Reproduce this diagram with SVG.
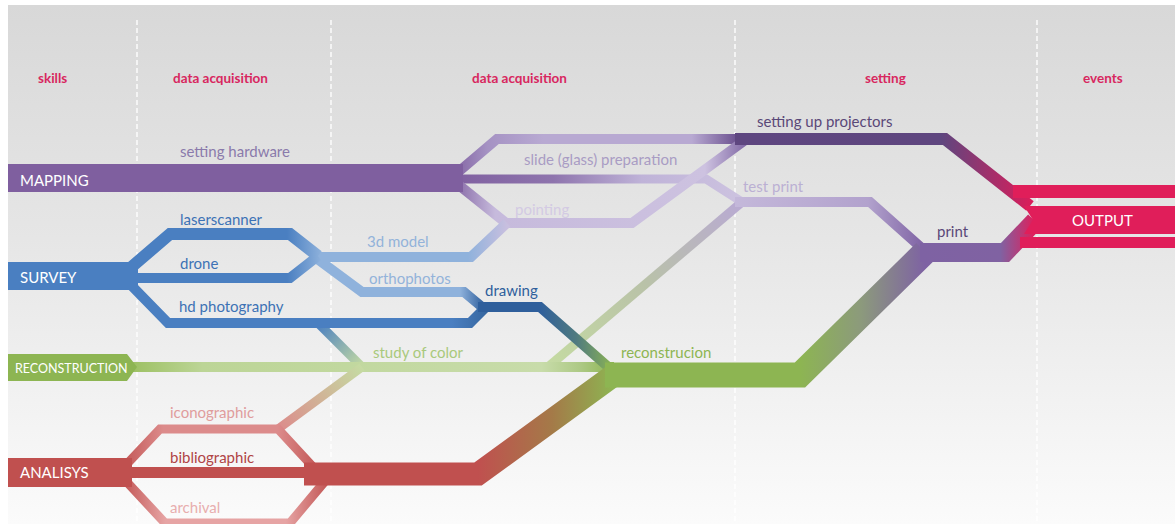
<svg xmlns="http://www.w3.org/2000/svg" width="1175" height="524" viewBox="0 0 1175 524">
<style>
.hdr{font-family:Lato,"Liberation Sans",sans-serif;font-weight:bold;font-size:13.5px;fill:#d8275f}
.lbl{font-family:Lato,"Liberation Sans",sans-serif;font-size:15px}
.node{font-family:Lato,"Liberation Sans",sans-serif;font-size:15px;fill:#ffffff}
.dash{stroke:#ffffff;stroke-width:1.5;stroke-dasharray:5 3;fill:none;opacity:0.9}
.ln{fill:none;stroke-linejoin:miter;stroke-miterlimit:10}
</style>
<defs>
<linearGradient id="bg" x1="0" y1="0" x2="0" y2="1">
<stop offset="0" stop-color="#d8d8d8"/>
<stop offset="0.45" stop-color="#e6e6e6"/>
<stop offset="1" stop-color="#fbfbfb"/>
</linearGradient>
<linearGradient id="gTop" gradientUnits="userSpaceOnUse" x1="450" y1="0" x2="760" y2="0">
<stop offset="0" stop-color="#7f5f9f"/><stop offset="0.12" stop-color="#a592c3"/><stop offset="0.3" stop-color="#b8a9d2"/><stop offset="0.78" stop-color="#b8a9d2"/><stop offset="0.92" stop-color="#6f5592"/><stop offset="1" stop-color="#5e4680"/>
</linearGradient>
<linearGradient id="gMid" gradientUnits="userSpaceOnUse" x1="450" y1="0" x2="745" y2="0">
<stop offset="0" stop-color="#7f5f9f"/><stop offset="0.35" stop-color="#8e74ad"/><stop offset="0.65" stop-color="#bfb3d8"/><stop offset="1" stop-color="#cdc3e0"/>
</linearGradient>
<linearGradient id="gPoint" gradientUnits="userSpaceOnUse" x1="450" y1="0" x2="750" y2="0">
<stop offset="0" stop-color="#7f5f9f"/><stop offset="0.15" stop-color="#c6badc"/><stop offset="0.85" stop-color="#cdc2e0"/><stop offset="1" stop-color="#7a60a0"/>
</linearGradient>
<linearGradient id="gTest" gradientUnits="userSpaceOnUse" x1="735" y1="0" x2="925" y2="0">
<stop offset="0" stop-color="#c4b8da"/><stop offset="0.7" stop-color="#b2a2cd"/><stop offset="1" stop-color="#7e62a3"/>
</linearGradient>
<linearGradient id="gProj" gradientUnits="userSpaceOnUse" x1="735" y1="0" x2="1030" y2="0">
<stop offset="0" stop-color="#5e4680"/><stop offset="0.7" stop-color="#5f467f"/><stop offset="1" stop-color="#d81e5b"/>
</linearGradient>
<linearGradient id="gPrint" gradientUnits="userSpaceOnUse" x1="920" y1="0" x2="1035" y2="0">
<stop offset="0" stop-color="#7e62a3"/><stop offset="0.7" stop-color="#8062a2"/><stop offset="1" stop-color="#e01e5a"/>
</linearGradient>
<linearGradient id="gRec" gradientUnits="userSpaceOnUse" x1="605" y1="0" x2="925" y2="0">
<stop offset="0" stop-color="#8db552"/><stop offset="0.61" stop-color="#8db552"/><stop offset="0.8" stop-color="#8c9a7c"/><stop offset="1" stop-color="#7e62a3"/>
</linearGradient>
<linearGradient id="gStudyUp" gradientUnits="userSpaceOnUse" x1="548" y1="367" x2="742" y2="202">
<stop offset="0" stop-color="#c5dba2"/><stop offset="0.5" stop-color="#b9c2a8"/><stop offset="1" stop-color="#b9aad3"/>
</linearGradient>
<linearGradient id="gSurv" gradientUnits="userSpaceOnUse" x1="128" y1="0" x2="322" y2="0">
<stop offset="0" stop-color="#4a7fc1"/><stop offset="0.82" stop-color="#4a7fc1"/><stop offset="1" stop-color="#8fb2dc"/>
</linearGradient>
<linearGradient id="gHd" gradientUnits="userSpaceOnUse" x1="128" y1="0" x2="488" y2="0">
<stop offset="0" stop-color="#4a7fc1"/><stop offset="0.9" stop-color="#4a7fc1"/><stop offset="1" stop-color="#36669f"/>
</linearGradient>
<linearGradient id="g3d" gradientUnits="userSpaceOnUse" x1="312" y1="0" x2="507" y2="0">
<stop offset="0" stop-color="#8fb2dc"/><stop offset="0.8" stop-color="#8fb2dc"/><stop offset="1" stop-color="#c8bfdf"/>
</linearGradient>
<linearGradient id="gOrtho" gradientUnits="userSpaceOnUse" x1="312" y1="0" x2="484" y2="0">
<stop offset="0" stop-color="#8fb2dc"/><stop offset="0.86" stop-color="#8fb2dc"/><stop offset="1" stop-color="#2f5f9c"/>
</linearGradient>
<linearGradient id="gDraw" gradientUnits="userSpaceOnUse" x1="478" y1="0" x2="614" y2="0">
<stop offset="0" stop-color="#2f5f9c"/><stop offset="0.45" stop-color="#2f5f9c"/><stop offset="0.72" stop-color="#4f7a80"/><stop offset="1" stop-color="#8db552"/>
</linearGradient>
<linearGradient id="gHdStudy" gradientUnits="userSpaceOnUse" x1="318" y1="323" x2="362" y2="367">
<stop offset="0" stop-color="#4a7fc1"/><stop offset="1" stop-color="#c5dba2"/>
</linearGradient>
<linearGradient id="gStudy" gradientUnits="userSpaceOnUse" x1="130" y1="0" x2="614" y2="0">
<stop offset="0" stop-color="#9cc062"/><stop offset="0.15" stop-color="#bcd596"/><stop offset="0.85" stop-color="#c8dcaa"/><stop offset="0.93" stop-color="#adc985"/><stop offset="1" stop-color="#8db552"/>
</linearGradient>
<linearGradient id="gIcon" gradientUnits="userSpaceOnUse" x1="125" y1="0" x2="316" y2="0">
<stop offset="0" stop-color="#c45a59"/><stop offset="0.2" stop-color="#dc8b8b"/><stop offset="0.8" stop-color="#dc8b8b"/><stop offset="1" stop-color="#c45a59"/>
</linearGradient>
<linearGradient id="gArch" gradientUnits="userSpaceOnUse" x1="125" y1="0" x2="326" y2="0">
<stop offset="0" stop-color="#c45a59"/><stop offset="0.2" stop-color="#e6a4a4"/><stop offset="0.8" stop-color="#e6a4a4"/><stop offset="1" stop-color="#c45a59"/>
</linearGradient>
<linearGradient id="gIconUp" gradientUnits="userSpaceOnUse" x1="278" y1="429" x2="362" y2="367">
<stop offset="0" stop-color="#dc8b8b"/><stop offset="1" stop-color="#c5dba2"/>
</linearGradient>
<linearGradient id="gAna" gradientUnits="userSpaceOnUse" x1="305" y1="0" x2="614" y2="0">
<stop offset="0" stop-color="#c0504f"/><stop offset="0.56" stop-color="#c0504f"/><stop offset="0.8" stop-color="#a47a48"/><stop offset="1" stop-color="#8db552"/>
</linearGradient>
</defs>

<g id="background">
<rect x="0" y="0" width="1175" height="524" fill="#ffffff"/>
<rect x="8" y="5" width="1167" height="519" fill="url(#bg)"/>
<line class="dash" x1="137" y1="20" x2="137" y2="524"/>
<line class="dash" x1="331" y1="20" x2="331" y2="524"/>
<line class="dash" x1="735" y1="20" x2="735" y2="524"/>
<line class="dash" x1="1037" y1="20" x2="1037" y2="524"/>
</g>

<g id="headers">
<text class="hdr" x="38" y="83">skills</text>
<text class="hdr" x="173" y="83">data acquisition</text>
<text class="hdr" x="472" y="83">data acquisition</text>
<text class="hdr" x="865" y="83">setting</text>
<text class="hdr" x="1083" y="83">events</text>
</g>

<g id="connectors">
<path class="ln" d="M450 179 L497 139 L745 139" stroke="url(#gTop)" stroke-width="10"/>
<path class="ln" d="M450 179 L706 179 L742 202" stroke="url(#gMid)" stroke-width="9"/>
<path class="ln" d="M450 178 L506 223 L632 223 L748 138" stroke="url(#gPoint)" stroke-width="10"/>
<path class="ln" d="M548 367 L742 202" stroke="url(#gStudyUp)" stroke-width="9"/>
<path class="ln" d="M735 202 L870 202 L925 251" stroke="url(#gTest)" stroke-width="10"/>
<path class="ln" d="M735 139 L945 139 L1030 206" stroke="url(#gProj)" stroke-width="12"/>
<path class="ln" d="M318 323 L362 367" stroke="url(#gHdStudy)" stroke-width="9"/>
<path class="ln" d="M130 367 L614 367" stroke="url(#gStudy)" stroke-width="10"/>
<path class="ln" d="M278 429 L362 367" stroke="url(#gIconUp)" stroke-width="9"/>
<path class="ln" d="M312 257 L471 257 L507 223" stroke="url(#g3d)" stroke-width="10"/>
<path class="ln" d="M312 255 L362 292 L464 292 L482 307" stroke="url(#gOrtho)" stroke-width="10"/>
<path class="ln" d="M128 270 L170 234 L290 234 L318 256" stroke="url(#gSurv)" stroke-width="12"/>
<path class="ln" d="M128 278 L290 278 L318 256" stroke="url(#gSurv)" stroke-width="10"/>
<path class="ln" d="M128 282 L168 323 L470 323 L486 307" stroke="url(#gHd)" stroke-width="10"/>
<path class="ln" d="M478 307 L540 307 L614 372" stroke="url(#gDraw)" stroke-width="10"/>
<path class="ln" d="M125 466 L160 429 L278 429 L314 468" stroke="url(#gIcon)" stroke-width="9"/>
<path class="ln" d="M125 480 L165 523 L290 523 L326 480" stroke="url(#gArch)" stroke-width="9"/>
<path class="ln" d="M125 472.5 L310 472.5" stroke="#c0504f" stroke-width="11"/>
<path class="ln" d="M304 474 L478 474 L614 375" stroke="url(#gAna)" stroke-width="23"/>
<path class="ln" d="M605 375 L800 375 L925 252" stroke="url(#gRec)" stroke-width="25"/>
<path class="ln" d="M920 252.5 L1005 252.5 L1035 221" stroke="url(#gPrint)" stroke-width="19"/>
</g>

<g id="labels" class="lbl">
<text x="180" y="157" fill="#8a7aab">setting hardware</text>
<text x="524" y="165" fill="#a99cc4">slide (glass) preparation</text>
<text x="757" y="127" fill="#5a4878">setting up projectors</text>
<text x="743" y="192" fill="#bbb0d3">test print</text>
<text x="937" y="237" fill="#5a4878">print</text>
<text x="515" y="215" fill="#d3cae3">pointing</text>
<text x="180" y="225" fill="#3d72b5">laserscanner</text>
<text x="180" y="269" fill="#3d72b5">drone</text>
<text x="179" y="312" fill="#3d72b5">hd photography</text>
<text x="367" y="247" fill="#93b3da">3d model</text>
<text x="369" y="284" fill="#93b3da">orthophotos</text>
<text x="485" y="296" fill="#2f5f9c">drawing</text>
<text x="373" y="358" fill="#a9c97c">study of color</text>
<text x="621" y="358" fill="#8db552">reconstrucion</text>
<text x="170" y="418" fill="#e09d9d">iconographic</text>
<text x="170" y="463" fill="#b04445">bibliographic</text>
<text x="170" y="513" fill="#e8aeae">archival</text>
</g>

<g id="node-mapping">
<rect x="8" y="164" width="455" height="28" fill="#7f5f9f"/>
<text class="node" x="20" y="186">MAPPING</text>
</g>
<g id="node-survey">
<rect x="8" y="262" width="130" height="28" fill="#4a7fc1"/>
<text class="node" x="20" y="283">SURVEY</text>
</g>
<g id="node-reconstruction">
<polygon points="8,354 127,354 137,367 127,381 8,381" fill="#8db552"/>
<text class="node" x="15" y="373" style="font-size:12.5px">RECONSTRUCTION</text>
</g>
<g id="node-analisys">
<rect x="8" y="458" width="124" height="29" fill="#c0504f"/>
<text class="node" x="20" y="478">ANALISYS</text>
</g>
<g id="node-output">
<rect x="1013" y="185" width="162" height="13" fill="#e01e5a"/>
<polygon points="1024,206 1175,206 1175,234 1024,234 1033,220" fill="#e01e5a"/>
<rect x="1020" y="237" width="155" height="11" fill="#e01e5a"/>
<text class="node" x="1072" y="226">OUTPUT</text>
</g>
</svg>
